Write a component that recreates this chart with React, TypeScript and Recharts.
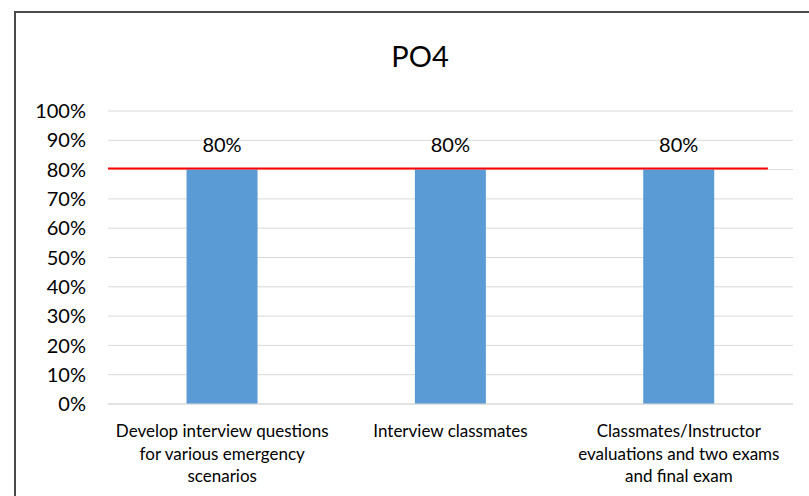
import { Bar, BarChart, CartesianGrid, LabelList, ReferenceLine, XAxis, YAxis } from "recharts";

const categories = ["activity1", "activity2", "activity3"];
const categoryLines = [
  ["Develop interview questions", "for various emergency", "scenarios"],
  ["Interview classmates"],
  ["Classmates/Instructor", "evaluations and two exams", "and final exam"],
];
const scores = [80, 80, 80];
const yTicks = [0, 10, 20, 30, 40, 50, 60, 70, 80, 90, 100];
const targetValue = 80.4;
const targetStart = 0;
const targetEnd = 2.89;

const data = categories.map((name, i) => ({ name, score: scores[i], pos: i + 0.5 }));

const FONT = "Lato";

function CategoryTick(props: any) {
  const { x, y, payload } = props;
  const lines = categoryLines[payload.index] || [];
  return (
    <g transform={`translate(${x},${y})`}>
      <text textAnchor="middle" fontFamily={FONT} fontSize={17} fill="#000">
        {lines.map((line, i) => (
          <tspan key={i} x={0} y={33 + i * 22.5}>
            {line}
          </tspan>
        ))}
      </text>
    </g>
  );
}

export default function App() {
  return (
    <div
      style={{
        position: "fixed",
        left: 0,
        top: 0,
        width: 809,
        height: 496,
        overflow: "hidden",
        background: "#fff",
      }}
    >
      <div
        style={{
          position: "absolute",
          left: 14,
          top: 11,
          width: 830,
          height: 520,
          border: "2px solid #4a4a4a",
          boxSizing: "border-box",
        }}
      />
      <div
        style={{
          position: "absolute",
          left: 0,
          top: 41,
          width: 840,
          textAlign: "center",
          fontFamily: FONT,
          fontSize: 29,
          lineHeight: "30px",
          color: "#000",
        }}
      >
        PO4
      </div>
      <div style={{ position: "absolute", left: 0, top: 0 }}>
        <BarChart
          width={809}
          height={496}
          data={data}
          margin={{ top: 111, right: 16, bottom: 12, left: 48 }}
          barCategoryGap="34.4%"
        >
          <CartesianGrid vertical={false} stroke="#D9D9D9" />
          <XAxis
            dataKey="name"
            tick={<CategoryTick />}
            tickLine={false}
            tickSize={0}
            tickMargin={0}
            axisLine={{ stroke: "#D9D9D9" }}
            height={80}
            interval={0}
          />
          <XAxis
            xAxisId="line"
            dataKey="pos"
            type="number"
            domain={[0, 3]}
            allowDataOverflow
            hide
          />
          <YAxis
            domain={[0, 100]}
            ticks={yTicks}
            tickFormatter={(v) => `${v}%`}
            axisLine={false}
            tickLine={false}
            tickSize={0}
            tickMargin={22}
            width={60}
            tick={{ fontFamily: FONT, fontSize: 20, fill: "#000" }}
          />
          <Bar dataKey="score" fill="#5B9BD5" isAnimationActive={false}>
            <LabelList
              dataKey="score"
              position="top"
              offset={18}
              formatter={(v: any) => `${v}%`}
              style={{ fontFamily: FONT, fontSize: 20, fill: "#000" }}
            />
          </Bar>
          <ReferenceLine
            xAxisId="line"
            segment={[
              { x: targetStart, y: targetValue },
              { x: targetEnd, y: targetValue },
            ]}
            stroke="#FF0000"
            strokeWidth={2}
            ifOverflow="visible"
          />
        </BarChart>
      </div>
    </div>
  );
}
